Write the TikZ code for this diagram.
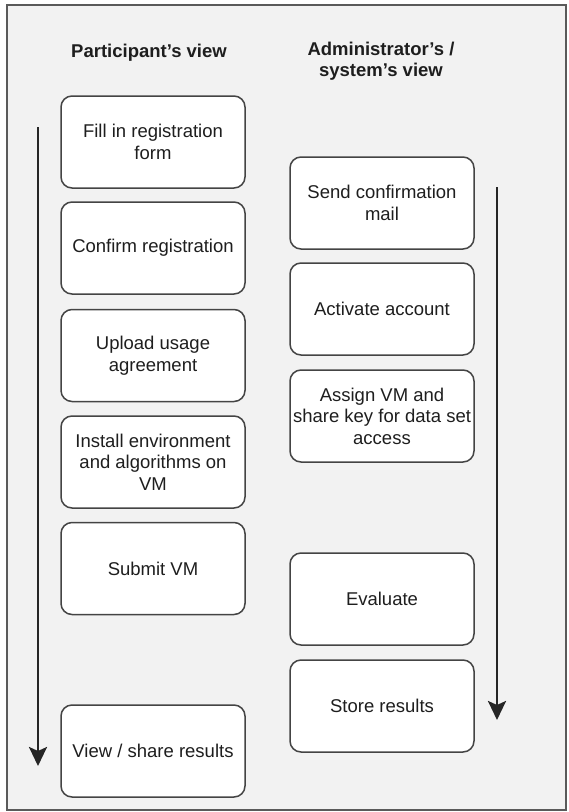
\documentclass[tikz,border=0pt]{standalone}
\usepackage{fontspec}
\setmainfont{Liberation Sans}
\usetikzlibrary{arrows.meta}
\definecolor{bg}{HTML}{F2F2F2}
\definecolor{framec}{HTML}{5A5A5A}
\definecolor{boxc}{HTML}{444444}
\definecolor{txt}{HTML}{1E1E1E}
\newcommand{\apos}{\char"27\relax}
\tikzset{
  stepbox/.style={draw=boxc, line width=1.5pt, fill=white, rounded corners=11pt,
    minimum width=184pt, minimum height=92pt, inner sep=0pt, align=center,
    text=txt, font=\fontsize{18.5}{21.5}\selectfont},
  heading/.style={align=center, text=txt, inner sep=0pt,
    font=\bfseries\fontsize{18.5}{21}\selectfont},
  flow/.style={draw=black!85, line width=2.8pt,
    -{Stealth[length=19pt,width=18pt,inset=4pt]}}
}
\begin{document}
\begin{tikzpicture}[x=1pt,y=-1pt]
\useasboundingbox (0,0) rectangle (569,812);
\fill[white] (0,0) rectangle (569,812);
\draw[framec, fill=bg, line width=1.6pt] (7,5) rectangle (566,810);

\node[heading] (hp) at (149,53) {Participant\apos s view};
\node[heading] (ha) at (381,61) {Administrator\apos s /\\system\apos s view};

\node[stepbox] (p1) at (153,142) {Fill in registration\\form};
\node[stepbox] (p2) at (153,248) {Confirm registration};
\node[stepbox] (p3) at (153,355.5) {Upload usage\\agreement};
\node[stepbox] (p4) at (153,462) {Install environment\\and algorithms on\\VM};
\node[stepbox] (p5) at (153,568.5) {Submit VM};
\node[stepbox] (p6) at (153,751) {View / share results};

\node[stepbox] (a1) at (382,203) {Send confirmation\\mail};
\node[stepbox] (a2) at (382,309) {Activate account};
\node[stepbox] (a3) at (382,416) {Assign VM and\\share key for data set\\access};
\node[stepbox] (a4) at (382,599) {Evaluate};
\node[stepbox] (a5) at (382,706) {Store results};

\coordinate (ls) at (38,127);
\coordinate (le) at (38,766);
\coordinate (rs) at (497,187);
\coordinate (re) at (497,720);
\draw[flow] (ls) -- (le);
\draw[flow] (rs) -- (re);
\end{tikzpicture}
\end{document}
